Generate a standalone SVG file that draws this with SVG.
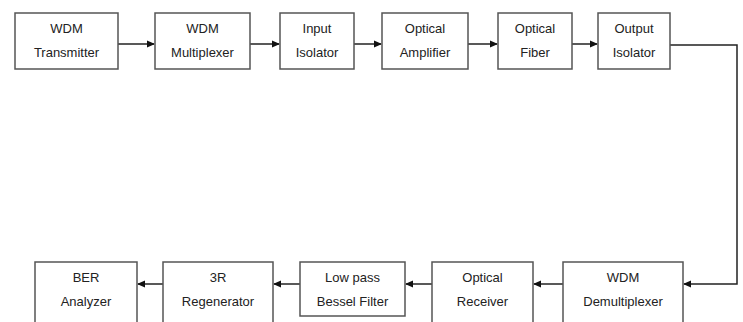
<svg xmlns="http://www.w3.org/2000/svg" width="743" height="322" viewBox="0 0 743 322">
<style>
.box{fill:#fff;stroke:#555;stroke-width:1.5}
.t{font-family:"Liberation Sans",Arial,sans-serif;font-size:13px;fill:#222;text-anchor:middle}
.c{fill:none;stroke:#222;stroke-width:1.5}
</style>
<defs>
<marker id="ah" markerWidth="8" markerHeight="8" refX="7" refY="4" orient="auto" markerUnits="userSpaceOnUse">
<path d="M0,0.5 L8,4 L0,7.5 Z" fill="#111"/>
</marker>
</defs>
<rect width="743" height="322" fill="#fff"/>
<g id="connectors">
<line class="c" x1="118" y1="44" x2="154" y2="44" marker-end="url(#ah)"/>
<line class="c" x1="250" y1="44" x2="279" y2="44" marker-end="url(#ah)"/>
<line class="c" x1="354" y1="44" x2="381" y2="44" marker-end="url(#ah)"/>
<line class="c" x1="468" y1="44" x2="497" y2="44" marker-end="url(#ah)"/>
<line class="c" x1="572" y1="44" x2="597" y2="44" marker-end="url(#ah)"/>
<polyline class="c" points="670,45 737,45 737,284 684,284" marker-end="url(#ah)"/>
<line class="c" x1="563" y1="284" x2="534" y2="284" marker-end="url(#ah)"/>
<line class="c" x1="432" y1="284" x2="406" y2="284" marker-end="url(#ah)"/>
<line class="c" x1="300" y1="284" x2="274" y2="284" marker-end="url(#ah)"/>
<line class="c" x1="163" y1="284" x2="138" y2="284" marker-end="url(#ah)"/>
</g>
<g id="wdm-transmitter"><rect class="box" x="15" y="13" width="103" height="56"/><text class="t" x="66.5" y="33">WDM</text><text class="t" x="66.5" y="57">Transmitter</text></g>
<g id="wdm-multiplexer"><rect class="box" x="155" y="13" width="95" height="56"/><text class="t" x="202.5" y="33">WDM</text><text class="t" x="202.5" y="57">Multiplexer</text></g>
<g id="input-isolator"><rect class="box" x="280" y="13" width="74" height="56"/><text class="t" x="317" y="33">Input</text><text class="t" x="317" y="57">Isolator</text></g>
<g id="optical-amplifier"><rect class="box" x="382" y="13" width="86" height="56"/><text class="t" x="425" y="33">Optical</text><text class="t" x="425" y="57">Amplifier</text></g>
<g id="optical-fiber"><rect class="box" x="498" y="13" width="74" height="56"/><text class="t" x="535" y="33">Optical</text><text class="t" x="535" y="57">Fiber</text></g>
<g id="output-isolator"><rect class="box" x="598" y="13" width="72" height="56"/><text class="t" x="634" y="33">Output</text><text class="t" x="634" y="57">Isolator</text></g>
<g id="wdm-demultiplexer"><rect class="box" x="563" y="262" width="120" height="70"/><text class="t" x="623" y="282">WDM</text><text class="t" x="623" y="306">Demultiplexer</text></g>
<g id="optical-receiver"><rect class="box" x="432" y="262" width="101" height="70"/><text class="t" x="482.5" y="282">Optical</text><text class="t" x="482.5" y="306">Receiver</text></g>
<g id="bessel-filter"><rect class="box" x="300" y="262" width="105" height="54"/><text class="t" x="352.5" y="282">Low pass</text><text class="t" x="352.5" y="306">Bessel Filter</text></g>
<g id="regenerator"><rect class="box" x="163" y="262" width="110" height="70"/><text class="t" x="218" y="282">3R</text><text class="t" x="218" y="306">Regenerator</text></g>
<g id="ber-analyzer"><rect class="box" x="35" y="262" width="102" height="70"/><text class="t" x="86" y="282">BER</text><text class="t" x="86" y="306">Analyzer</text></g>
</svg>
